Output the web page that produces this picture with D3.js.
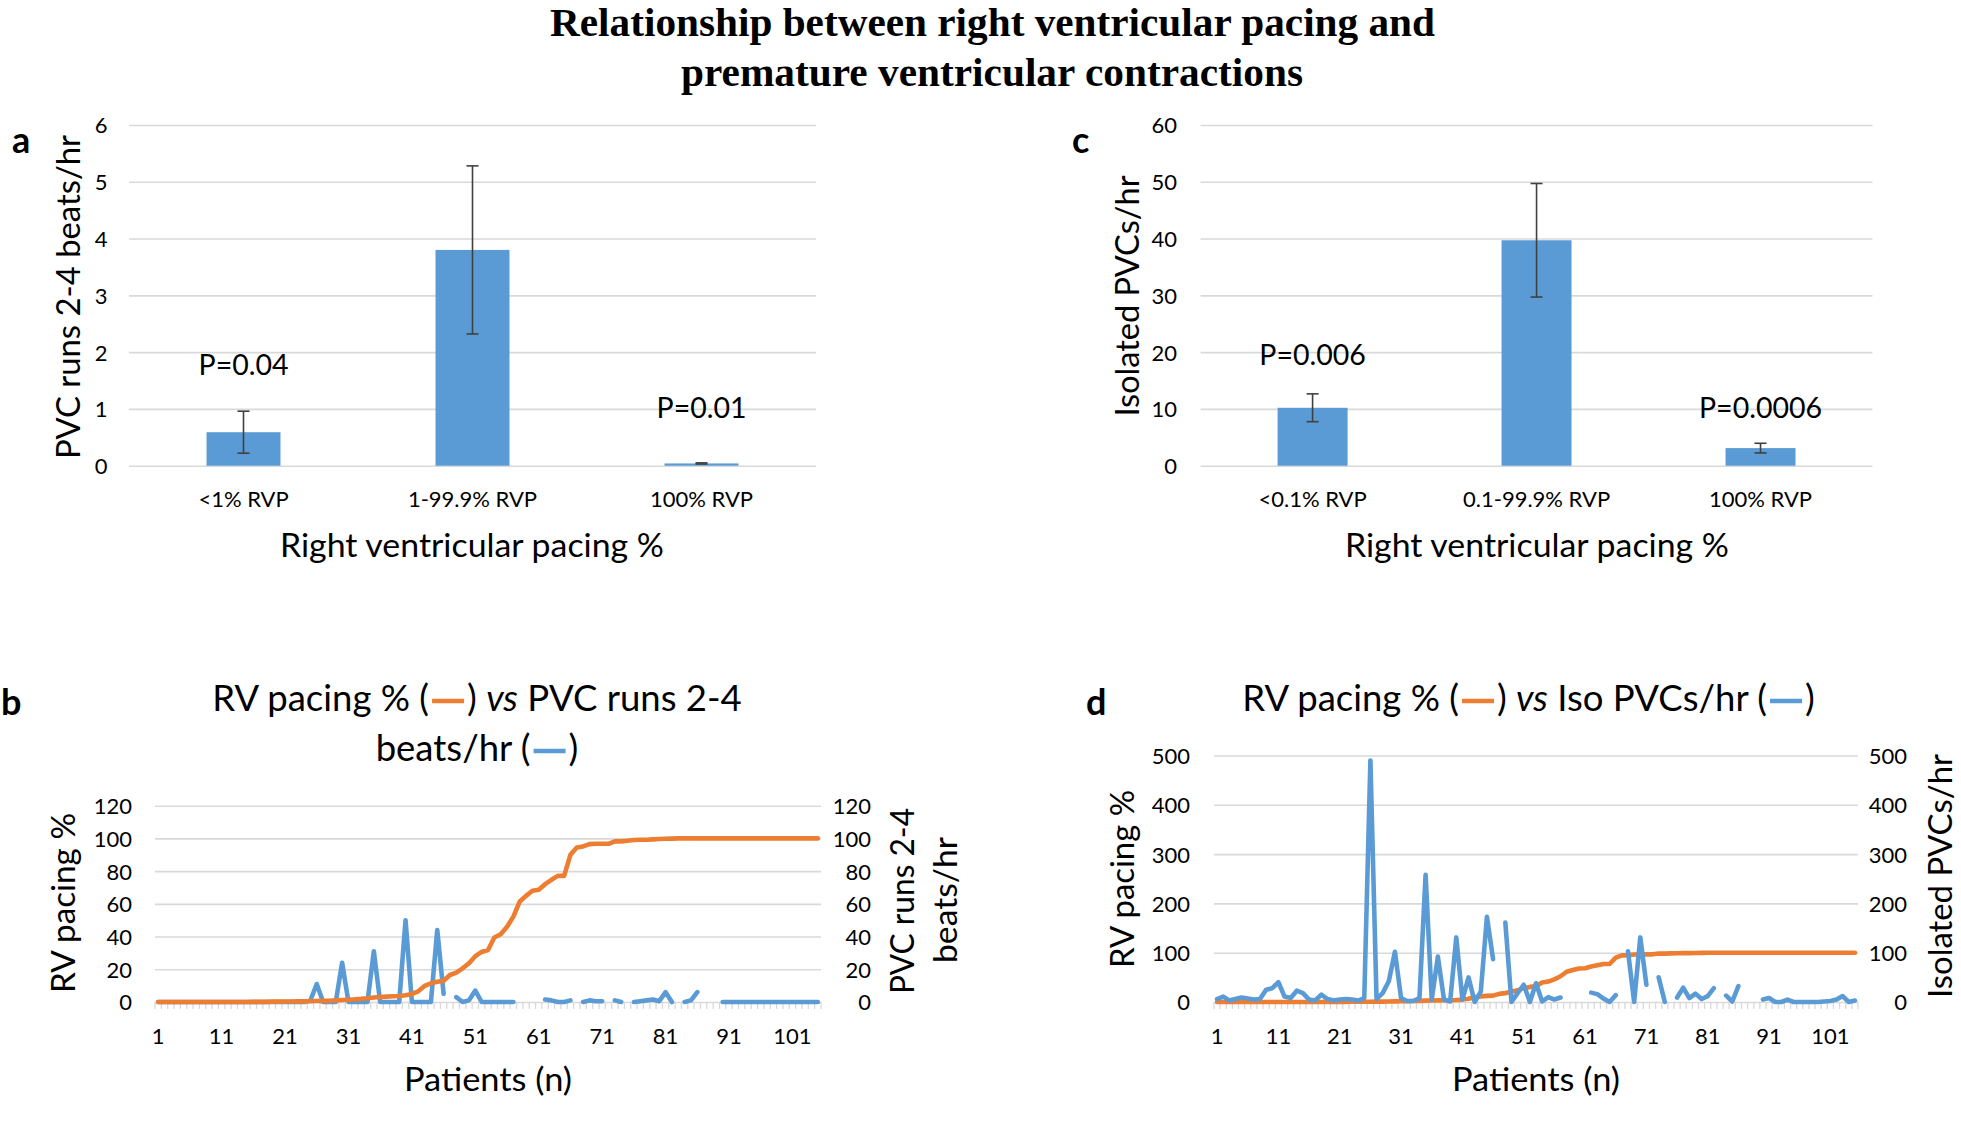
<!DOCTYPE html>
<html><head><meta charset="utf-8">
<script src="https://cdn.jsdelivr.net/npm/d3@7"></script>
<style>
html,body{margin:0;padding:0;background:#fff;}
svg{display:block;}
text{font-family:Lato,"Open Sans",sans-serif;fill:#000;}
</style></head><body>
<svg id="chart" width="1961" height="1132"></svg>
<script>
// ---------------- DATA ----------------
const titleLines = ["Relationship between right ventricular pacing and", "premature ventricular contractions"];

const aCategories = ["<1% RVP", "1-99.9% RVP", "100% RVP"];
const aValues = [0.59, 3.80, 0.04];
const aErrors = [0.37, 1.48, 0.01];
const aPLabels = ["P=0.04", "", "P=0.01"];
const aTicks = [0, 1, 2, 3, 4, 5, 6];

const cCategories = ["<0.1% RVP", "0.1-99.9% RVP", "100% RVP"];
const cValues = [10.2, 39.7, 3.1];
const cErrors = [2.45, 10.0, 0.85];
const cPLabels = ["P=0.006", "", "P=0.0006"];
const cTicks = [0, 10, 20, 30, 40, 50, 60];

const patients = d3.range(1, 106);
const xTickLabels = [1, 11, 21, 31, 41, 51, 61, 71, 81, 91, 101];
const bTicks = [0, 20, 40, 60, 80, 100, 120];
const dTicks = [0, 100, 200, 300, 400, 500];

const rvPacing = [
  0,0,0,0,0,0,0,0,0,0,
  0,0,0,0,0,0.1,0.1,0.1,0.2,0.2,
  0.3,0.3,0.4,0.4,0.5,0.6,0.7,0.8,1.0,1.2,
  1.4,1.6,1.9,2.3,2.8,3.1,3.3,3.5,3.7,4.1,
  4.9,6.5,9.8,11.4,12.4,12.9,16.5,18.0,20.6,23.7,
  28.0,30.6,31.8,39.4,41.4,46.0,52.2,61.4,64.9,68.0,
  68.6,72.0,74.7,77.1,77.1,90.0,94.5,95.1,96.5,96.7,
  96.7,96.7,98.2,98.2,98.6,99.0,99.2,99.2,99.4,99.6,
  99.8,99.9,100,100,100,100,100,100,100,100,
  100,100,100,100,100,100,100,100,100,100,
  100,100,100,100,100
];

const pvcRuns = [
  0,0,0,0,0,0,0,0,0,0,
  0,0,0,0,0,0,0,0,0,0,
  0,0,0,0,1,11,0,0,0,24,
  0,0,0,0,31,0,0,0,0,50,
  0,0,0,0,44,5,null,3,0,1,
  7,0,0,0,0,0,0,null,null,null,
  null,1.5,1,0,0,1,null,0,1,0.5,
  0.5,null,1,0,null,0,0.5,1,1.5,0.5,
  6,0,null,0,1,6,null,null,null,0,
  0,0,0,0,0,0,0,0,0,0,
  0,0,0,0,0
];

const isoPvcs = [
  6,11,3,6,9,7,5,6,25,28,
  40,11,8,23,18,5,3,15,6,3,
  5,6,5,3,8,490,6,18,42,102,
  8,2,2,8,258,5,92,5,1,131,
  5,50,0,21,173,87,null,161,0,18,
  35,0,38,1,10,5,9,null,null,null,
  null,19,16,7,0,14,null,103,0,131,
  35,null,50,0,null,9,29,8,17,6,
  12,28,null,13,1,32,null,null,null,5,
  8,0,0,5,0,0,0,0,0,1,
  2,5,12,0,3
];

// ---------------- STYLE ----------------
const BLUE = "#5b9bd5", ORANGE = "#ed7d31", GRID = "#d9d9d9", ERR = "#404040";
const TICK_FS = "22px", AXT_FS = "32px", P_FS = "28.5px", PT_FS = "36.5px";
const fmt = d3.format("d");

const svg = d3.select("#chart");
svg.append("rect").attr("width", 1961).attr("height", 1132).attr("fill", "#fff");

// main title
const tl = svg.append("g").style("font-weight", "bold").style("font-size", "39px");
tl.append("text").attr("x", 992.5).attr("y", 36).attr("text-anchor", "middle")
  .style("font-family", "'Liberation Serif','Times New Roman',serif")
  .attr("textLength", 885).attr("lengthAdjust", "spacingAndGlyphs").text(titleLines[0]);
tl.append("text").attr("x", 992).attr("y", 85.5).attr("text-anchor", "middle")
  .style("font-family", "'Liberation Serif','Times New Roman',serif")
  .attr("textLength", 622).attr("lengthAdjust", "spacingAndGlyphs").text(titleLines[1]);

// panel letters
[["a", 12, 152.5], ["c", 1072, 152.5], ["b", 1, 715], ["d", 1086, 715]].forEach(([t, x, y]) => {
  svg.append("text").attr("x", x).attr("y", y).style("font-weight", "bold").style("font-size", "36px").text(t);
});

function yTitle(text, xBase, yc, len) {
  svg.append("text").attr("transform", `translate(${xBase},${yc}) rotate(-90)`)
    .attr("text-anchor", "middle").style("font-size", AXT_FS)
    .attr("textLength", len).attr("lengthAdjust", "spacingAndGlyphs").text(text);
}
function xTitle(text, xc, yBase, len) {
  svg.append("text").attr("x", xc).attr("y", yBase).attr("text-anchor", "middle").style("font-size", AXT_FS)
    .attr("textLength", len).attr("lengthAdjust", "spacingAndGlyphs").text(text);
}

// ---------------- BAR PANELS ----------------
function barPanel(cfg) {
  const x = d3.scaleBand().domain(cfg.categories).range([cfg.x0, cfg.x1])
    .paddingInner(cfg.pad).paddingOuter(cfg.pad / 2);
  const y = d3.scaleLinear().domain([0, d3.max(cfg.ticks)]).range([cfg.y0, cfg.y1]);
  const g = svg.append("g");
  const ax = g.append("g").attr("transform", `translate(${cfg.x0},0)`)
    .call(d3.axisLeft(y).tickValues(cfg.ticks).tickFormat(fmt)
      .tickSize(-(cfg.x1 - cfg.x0)).tickPadding(cfg.labelPad));
  ax.select(".domain").remove();
  ax.selectAll(".tick line").attr("stroke", GRID).attr("stroke-width", 1.6);
  ax.selectAll(".tick text").style("font-family", "Lato").style("font-size", TICK_FS)
    .attr("fill", "#000").attr("dy", "0.36em");

  const data = cfg.categories.map((c, i) => ({ c, v: cfg.values[i], e: cfg.errors[i], p: cfg.pLabels[i] }));
  g.selectAll("rect.bar").data(data).join("rect").attr("class", "bar")
    .attr("x", d => x(d.c)).attr("width", x.bandwidth())
    .attr("y", d => y(d.v)).attr("height", d => y(0) - y(d.v)).attr("fill", BLUE);

  const eb = g.selectAll("g.err").data(data).join("g").attr("class", "err")
    .attr("transform", d => `translate(${x(d.c) + x.bandwidth() / 2},0)`);
  eb.append("line").attr("y1", d => y(d.v - d.e)).attr("y2", d => y(d.v + d.e))
    .attr("stroke", ERR).attr("stroke-width", 1.6);
  eb.append("line").attr("x1", -6).attr("x2", 6).attr("y1", d => y(d.v + d.e)).attr("y2", d => y(d.v + d.e))
    .attr("stroke", ERR).attr("stroke-width", 1.6);
  eb.append("line").attr("x1", -6).attr("x2", 6).attr("y1", d => y(d.v - d.e)).attr("y2", d => y(d.v - d.e))
    .attr("stroke", ERR).attr("stroke-width", 1.6);

  g.selectAll("text.plab").data(data.filter(d => d.p)).join("text").attr("class", "plab")
    .attr("x", d => x(d.c) + x.bandwidth() / 2)
    .attr("y", (d, i) => cfg.pBase[i]).attr("text-anchor", "middle").style("font-size", P_FS).text(d => d.p);

  const xa = g.append("g").attr("transform", `translate(0,${cfg.y0})`)
    .call(d3.axisBottom(x).tickSize(0));
  xa.select(".domain").remove();
  xa.selectAll(".tick text").style("font-family", "Lato").style("font-size", TICK_FS)
    .attr("fill", "#000").attr("y", cfg.catBase - cfg.y0).attr("dy", 0);
}

barPanel({ categories: aCategories, values: aValues, errors: aErrors, pLabels: aPLabels, ticks: aTicks,
  x0: 129, x1: 816, y0: 465.7, y1: 125, pad: 0.677, labelPad: 21.5, pBase: [375, 418], catBase: 507 });
barPanel({ categories: cCategories, values: cValues, errors: cErrors, pLabels: cPLabels, ticks: cTicks,
  x0: 1200.6, x1: 1872.5, y0: 465.7, y1: 125, pad: 0.6875, labelPad: 23.6, pBase: [365, 418], catBase: 507 });

yTitle("PVC runs 2-4 beats/hr", 80, 297, 324);
yTitle("Isolated PVCs/hr", 1139, 296, 241);
xTitle("Right ventricular pacing %", 472, 557, 384);
xTitle("Right ventricular pacing %", 1537, 557, 384);

// ---------------- LINE PANELS ----------------
function linePanel(cfg) {
  const x = d3.scaleBand().domain(patients).range([cfg.x0, cfg.x1]);
  const cx = p => x(p) + x.bandwidth() / 2;
  const y = d3.scaleLinear().domain([0, d3.max(cfg.ticks)]).range([cfg.y0, cfg.y1]);
  const g = svg.append("g");

  const ax = g.append("g").attr("transform", `translate(${cfg.x0},0)`)
    .call(d3.axisLeft(y).tickValues(cfg.ticks).tickFormat(fmt)
      .tickSize(-(cfg.x1 - cfg.x0)).tickPadding(cfg.leftPad));
  ax.select(".domain").remove();
  ax.selectAll(".tick line").attr("stroke", GRID).attr("stroke-width", 1.6);
  ax.selectAll(".tick text").style("font-family", "Lato").style("font-size", TICK_FS)
    .attr("fill", "#000").attr("dy", "0.36em");

  const ar = g.append("g").attr("transform", `translate(${cfg.x1},0)`)
    .call(d3.axisRight(y).tickValues(cfg.ticks).tickFormat(fmt).tickSize(0));
  ar.select(".domain").remove();
  ar.selectAll(".tick text").style("font-family", "Lato").style("font-size", TICK_FS)
    .attr("fill", "#000").attr("dy", "0.36em").attr("text-anchor", "end").attr("x", cfg.rightEdge - cfg.x1);

  // category boundary tick marks
  const bounds = patients.map(p => x(p)).concat([cfg.x1]);
  g.append("g").selectAll("line").data(bounds).join("line")
    .attr("x1", d => d).attr("x2", d => d).attr("y1", cfg.y0).attr("y2", cfg.y0 + 7)
    .attr("stroke", GRID).attr("stroke-width", 1.3);

  const xa = g.append("g").attr("transform", `translate(0,${cfg.y0})`)
    .call(d3.axisBottom(x).tickValues(xTickLabels).tickSize(0));
  xa.select(".domain").remove();
  xa.selectAll(".tick text").style("font-family", "Lato").style("font-size", TICK_FS)
    .attr("fill", "#000").attr("y", cfg.xLabBase - cfg.y0).attr("dy", 0);

  const line = d3.line().defined(d => d.v != null).x(d => cx(d.p)).y(d => y(d.v));
  const orange = patients.map((p, i) => ({ p, v: rvPacing[i] }));
  const blue = patients.map((p, i) => ({ p, v: cfg.blue[i] }));
  const series = cfg.blueOnTop ? [[orange, ORANGE], [blue, BLUE]] : [[blue, BLUE], [orange, ORANGE]];
  series.forEach(([d, col]) => {
    g.append("path").datum(d).attr("d", line).attr("fill", "none").attr("stroke", col)
      .attr("stroke-width", 4.6).attr("stroke-linejoin", "round").attr("stroke-linecap", "round");
  });
}

linePanel({ ticks: bTicks, blue: pvcRuns, blueOnTop: false,
  x0: 155, x1: 821, y0: 1002, y1: 805.7, leftPad: 23, rightEdge: 871, xLabBase: 1043.5 });
linePanel({ ticks: dTicks, blue: isoPvcs, blueOnTop: true,
  x0: 1214, x1: 1858, y0: 1002, y1: 755.5, leftPad: 24, rightEdge: 1907, xLabBase: 1043.5 });

yTitle("RV pacing %", 75, 903, 180);
yTitle("PVC runs 2-4", 914, 901, 186);
yTitle("beats/hr", 957, 900, 126);
yTitle("RV pacing %", 1134, 879, 178);
yTitle("Isolated PVCs/hr", 1952, 876, 244);
xTitle("Patients (n)", 488, 1091, 168);
xTitle("Patients (n)", 1536, 1091, 168);

// ---------------- PANEL TITLES WITH LEGEND DASHES ----------------
function richTitle(lines, cx, baselines, gap) {
  lines.forEach((segs, li) => {
    const t = svg.append("text").attr("x", 0).attr("y", baselines[li]).style("font-size", PT_FS);
    let count = 0, pending = 0;
    const dashes = [];
    segs.forEach(s => {
      if (s.dash) { dashes.push({ idx: count - 1, color: s.dash }); pending = gap; return; }
      const ts = t.append("tspan").text(s.t);
      if (pending) { ts.attr("dx", pending); pending = 0; }
      if (s.i) ts.style("font-style", "italic");
      count += s.t.length;
    });
    const bb = t.node().getBBox();
    t.attr("x", cx - (bb.x + bb.width / 2));
    dashes.forEach(d => {
      const p = t.node().getEndPositionOfChar(d.idx);
      svg.append("line").attr("x1", p.x + 3).attr("x2", p.x + gap - 3)
        .attr("y1", baselines[li] - 10).attr("y2", baselines[li] - 10)
        .attr("stroke", d.color).attr("stroke-width", 4.5);
    });
  });
}

richTitle([
  [{ t: "RV pacing % (" }, { dash: ORANGE }, { t: ") " }, { t: "vs", i: 1 }, { t: " PVC runs 2-4" }],
  [{ t: "beats/hr (" }, { dash: BLUE }, { t: ")" }]
], 477, [711, 761], 38);
richTitle([
  [{ t: "RV pacing % (" }, { dash: ORANGE }, { t: ") " }, { t: "vs", i: 1 }, { t: " Iso PVCs/hr (" }, { dash: BLUE }, { t: ")" }]
], 1528.5, [711], 38);
</script></body></html>
